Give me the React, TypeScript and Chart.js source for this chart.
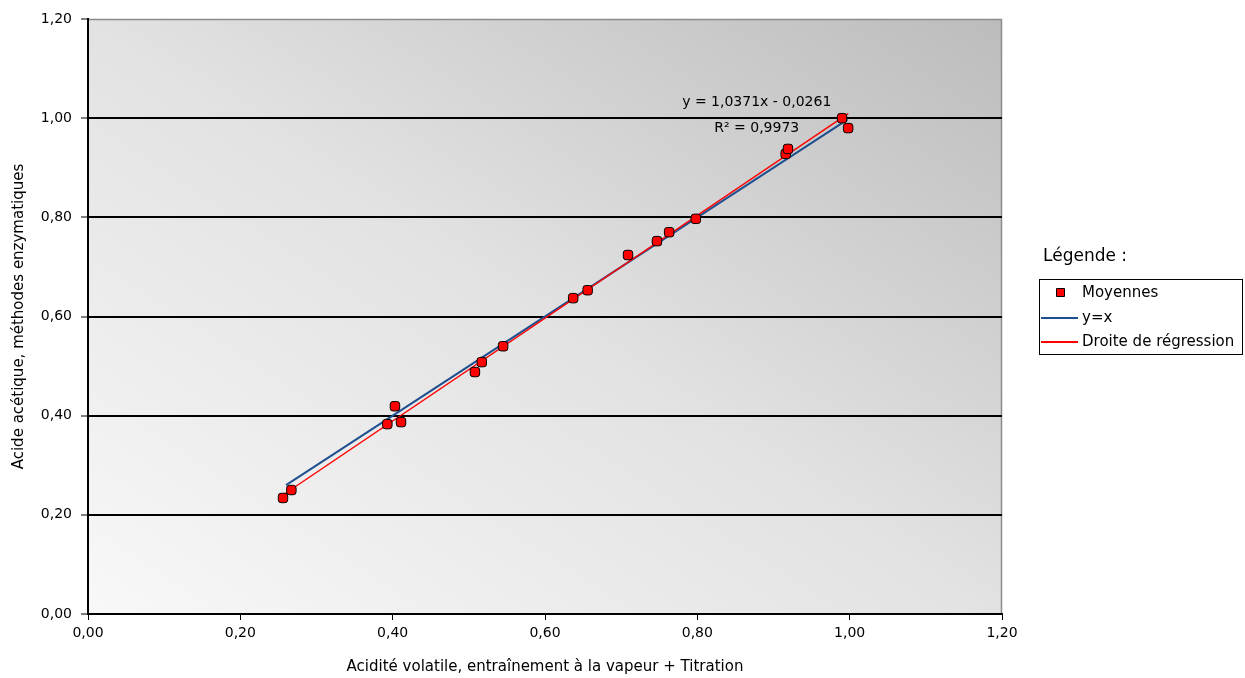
import React, { useEffect, useRef } from 'react';
import { Chart, registerables } from 'chart.js';

Chart.register(...registerables);

// ---- Data ----
const meanX = [0.256, 0.267, 0.393, 0.403, 0.411, 0.508, 0.517, 0.545, 0.637, 0.656, 0.709, 0.747, 0.763, 0.798, 0.916, 0.919, 0.990, 0.998];
const meanY = [0.234, 0.250, 0.383, 0.419, 0.387, 0.488, 0.508, 0.540, 0.637, 0.653, 0.724, 0.752, 0.770, 0.797, 0.928, 0.938, 1.000, 0.980];
const identityX = [0.26, 0.997];
const identityY = [0.26, 0.997];
const regressionX = [0.256, 0.998];
const regressionY = [0.240, 1.009];

const tickValues = [0, 0.2, 0.4, 0.6, 0.8, 1.0, 1.2];
const xTickLabels = ['0,00', '0,20', '0,40', '0,60', '0,80', '1,00', '1,20'];
const yTickLabels = ['0,00', '0,20', '0,40', '0,60', '0,80', '1,00', '1,20'];

const seriesLabels = ['Moyennes', 'y=x', 'Droite de régression'];
const legendTitle = 'Légende :';
const xTitle = 'Acidité volatile, entraînement à la vapeur + Titration';
const yTitle = 'Acide acétique, méthodes enzymatiques';
const equationLines = ['y = 1,0371x - 0,0261', 'R² = 0,9973'];

// ---- Styles ----
const FONT = "'DejaVu Sans', 'Liberation Sans', sans-serif";
const RED = '#ff0000';
const BLUE = '#1f4f8f';
const equationAnchor = { x: 0.878, y: [1.031, 0.98] };

const decorPlugin = {
  id: 'decor',
  beforeDraw(chart: any) {
    const { ctx, chartArea } = chart;
    const { left, top, right, bottom } = chartArea;
    const cx = (left + right) / 2;
    const cy = (top + bottom) / 2;
    const w = right - left;
    const h = bottom - top;
    // Excel-like diagonal gradient: isolines parallel to TL-BR diagonal
    const len = Math.hypot(h, w);
    const ux = h / len;
    const uy = -w / len;
    const k = Math.abs((-w / 2) * ux + (h / 2) * uy);
    const g = ctx.createLinearGradient(cx - ux * k, cy - uy * k, cx + ux * k, cy + uy * k);
    g.addColorStop(0, '#f8f8f8');
    g.addColorStop(0.5, '#e2e2e2');
    g.addColorStop(1, '#bcbcbc');
    ctx.save();
    ctx.fillStyle = g;
    ctx.fillRect(left, top, w, h);
    ctx.strokeStyle = '#8c8c8c';
    ctx.lineWidth = 1.5;
    ctx.beginPath();
    ctx.moveTo(left, top + 0.5);
    ctx.lineTo(right - 0.5, top + 0.5);
    ctx.lineTo(right - 0.5, bottom);
    ctx.stroke();
    ctx.restore();
  },
  afterDraw(chart: any) {
    const { ctx } = chart;
    const xs = chart.scales.x;
    const ys = chart.scales.y;
    ctx.save();
    // regression equation
    ctx.fillStyle = '#000';
    ctx.font = `14px ${FONT}`;
    ctx.textAlign = 'center';
    ctx.textBaseline = 'middle';
    const ex = xs.getPixelForValue(equationAnchor.x);
    equationLines.forEach((t, i) => {
      ctx.fillText(t, ex, ys.getPixelForValue(equationAnchor.y[i]));
    });

    // legend
    ctx.textAlign = 'left';
    ctx.font = `17px ${FONT}`;
    ctx.fillText(legendTitle, 1043, 257);
    ctx.strokeStyle = '#000';
    ctx.lineWidth = 1;
    ctx.strokeRect(1039.5, 279.5, 203, 75);
    ctx.font = `15px ${FONT}`;
    const rows = [293, 318, 342];
    // marker row
    ctx.fillStyle = RED;
    ctx.strokeStyle = '#000';
    ctx.lineWidth = 1;
    ctx.beginPath();
    ctx.rect(1056.5, 288.5, 8, 8);
    ctx.fill();
    ctx.stroke();
    // line rows
    ctx.lineWidth = 2;
    ctx.strokeStyle = BLUE;
    ctx.beginPath();
    ctx.moveTo(1041, rows[1]);
    ctx.lineTo(1078, rows[1]);
    ctx.stroke();
    ctx.strokeStyle = RED;
    ctx.beginPath();
    ctx.moveTo(1041, rows[2]);
    ctx.lineTo(1078, rows[2]);
    ctx.stroke();
    ctx.fillStyle = '#000';
    seriesLabels.forEach((t, i) => ctx.fillText(t, 1082, rows[i]));
    ctx.restore();
  },
};

export default function App() {
  const ref = useRef<HTMLCanvasElement | null>(null);

  useEffect(() => {
    if (!ref.current) return;
    const chart = new Chart(ref.current, {
      type: 'scatter',
      data: {
        datasets: [
          {
            label: seriesLabels[0],
            data: meanX.map((x, i) => ({ x, y: meanY[i] })),
            backgroundColor: RED,
            borderColor: '#000',
            borderWidth: 1,
            pointStyle: 'rectRounded',
            pointRadius: 5.5,
            showLine: false,
            order: 0,
          },
          {
            label: seriesLabels[1],
            data: identityX.map((x, i) => ({ x, y: identityY[i] })),
            borderColor: BLUE,
            backgroundColor: BLUE,
            borderWidth: 2,
            pointRadius: 0,
            showLine: true,
            order: 2,
          },
          {
            label: seriesLabels[2],
            data: regressionX.map((x, i) => ({ x, y: regressionY[i] })),
            borderColor: RED,
            backgroundColor: RED,
            borderWidth: 1.5,
            pointRadius: 0,
            showLine: true,
            order: 1,
          },
        ],
      },
      options: {
        responsive: false,
        animation: false,
        layout: { padding: { left: 0, top: 19, right: 243, bottom: 0 } },
        plugins: {
          legend: { display: false },
          tooltip: { enabled: false },
        },
        scales: {
          x: {
            type: 'linear',
            min: 0,
            max: 1.2,
            afterBuildTicks: (s: any) => {
              s.ticks = tickValues.map((v) => ({ value: v }));
            },
            afterFit: (s: any) => {
              s.height = 64;
            },
            ticks: {
              callback: (_v: any, i: number) => xTickLabels[i],
              color: '#000',
              font: { family: FONT, size: 14 },
              padding: 5,
              maxRotation: 0,
            },
            grid: {
              drawOnChartArea: false,
              drawTicks: true,
              tickLength: 6,
              tickColor: '#000',
              tickWidth: 1,
            },
            border: { display: true, color: '#000', width: 2 },
            title: {
              display: true,
              text: xTitle,
              color: '#000',
              font: { family: FONT, size: 15 },
              padding: { top: 0, bottom: 2 },
            },
          },
          y: {
            type: 'linear',
            min: 0,
            max: 1.2,
            afterBuildTicks: (s: any) => {
              s.ticks = tickValues.map((v) => ({ value: v }));
            },
            afterFit: (s: any) => {
              s.width = 88;
            },
            ticks: {
              callback: (_v: any, i: number) => yTickLabels[i],
              color: '#000',
              font: { family: FONT, size: 14 },
              padding: 9,
            },
            grid: {
              color: (c: any) => (c.tick && c.tick.value > 1.15 ? 'rgba(0,0,0,0)' : '#000'),
              lineWidth: 2,
              drawTicks: true,
              tickLength: 7,
              tickColor: '#000',
              tickWidth: 1,
            },
            border: { display: true, color: '#000', width: 2 },
            title: {
              display: true,
              text: yTitle,
              color: '#000',
              font: { family: FONT, size: 15 },
              padding: { top: 10, bottom: 0 },
            },
          },
        },
      },
      plugins: [decorPlugin],
    } as any);
    return () => chart.destroy();
  }, []);

  return (
    <div style={{ position: 'absolute', left: 0, top: 0, width: 1245, height: 678, background: '#fff' }}>
      <canvas ref={ref} width={1245} height={678} style={{ display: 'block' }} />
    </div>
  );
}
